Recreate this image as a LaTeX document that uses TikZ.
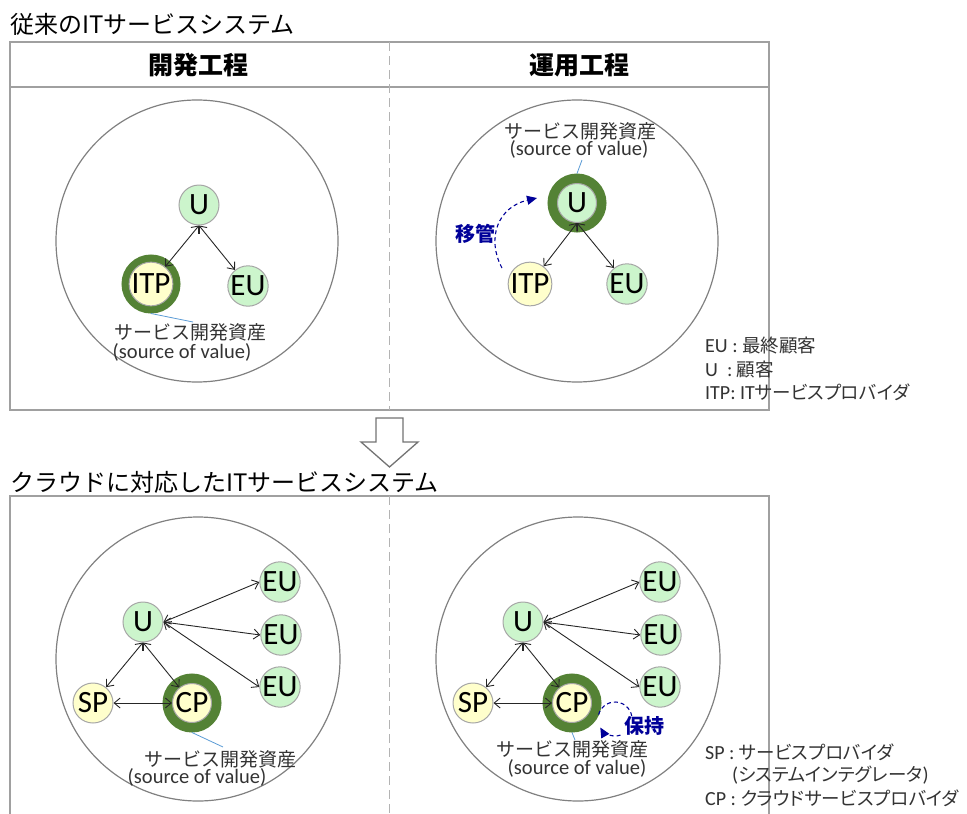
\documentclass[tikz,border=0pt]{standalone}
\usepackage{fontspec}
\setmainfont{Carlito}
\newfontfamily\cjk{Noto Sans CJK JP}
\newfontfamily\cjkp[RawFeature=+palt]{Noto Sans CJK JP}
\usetikzlibrary{arrows.meta}
\definecolor{lgreen}{HTML}{CCF5CC}
\definecolor{lyellow}{HTML}{FFFFCC}
\definecolor{ringgreen}{HTML}{548235}
\definecolor{leaderblue}{HTML}{5B9BD5}
\definecolor{navyblue}{HTML}{000099}
\definecolor{framegray}{HTML}{A0A0A0}
\definecolor{txtgray}{HTML}{333333}
\newcommand{\lgj}[1]{{\fontsize{18.5}{22}\selectfont\cjkp #1}}
\tikzset{
  frameline/.style={draw=framegray, line width=1.5pt},
  divider/.style={draw=framegray!80, line width=1pt, dash pattern=on 9pt off 5pt},
  bigcirc/.style={draw=gray, line width=1.2pt},
  gnode/.style={circle, draw=gray!70, fill=lgreen, minimum size=40pt, inner sep=0pt,
                line width=1pt, font=\fontsize{31}{33}\selectfont},
  ynode/.style={gnode, fill=lyellow, minimum size=39pt},
  ringnode/.style={circle, draw=ringgreen, line width=10pt, minimum size=49pt, inner sep=0pt},
  conn/.style={draw=black!85, line width=0.9pt,
               {Straight Barb[length=6pt,width=10pt]}-{Straight Barb[length=6pt,width=10pt]}},
  leader/.style={draw=leaderblue, line width=0.8pt},
  moveline/.style={draw=navyblue, line width=1.1pt, dash pattern=on 4pt off 3pt,
                   -{Triangle[length=10pt,width=9pt]}},
  movelabel/.style={text=navyblue, font=\fontsize{20}{22}\selectfont\cjk\bfseries, inner sep=0pt},
  asset/.style={text=txtgray, font=\fontsize{19}{21}\selectfont\cjk, inner sep=0pt},
  source/.style={text=txtgray, font=\fontsize{20.5}{22}\selectfont, inner sep=0pt},
  legend/.style={anchor=west, text=txtgray, font=\fontsize{20}{22}\selectfont, inner sep=0pt},
  titletext/.style={anchor=west, font=\fontsize{24}{26}\selectfont\cjk, inner sep=0pt},
  headtext/.style={font=\fontsize{25}{27}\selectfont\cjk\bfseries, inner sep=0pt},
  blockarrow/.style={draw=gray!90!black, line width=1.3pt, fill=white, line join=miter}
}
\begin{document}
\begin{tikzpicture}[x=1pt,y=-1pt]
\useasboundingbox (0,0) rectangle (967,814);

% ---------- titles and frames ----------
\node[titletext] (t1) at (10,24) {従来のITサービスシステム};
\node[titletext] (t2) at (10,482) {クラウドに対応したITサービスシステム};

\draw[frameline] (10,42) rectangle (769,410);
\draw[frameline] (10,87) -- (769,87);
\draw[divider] (389,42) -- (389,410);
\node[headtext] (h1) at (198,65) {開発工程};
\node[headtext] (h2) at (579,65) {運用工程};

\draw[frameline] (10,814) -- (10,496) -- (769,496) -- (769,814);
\draw[divider] (389,496) -- (389,814);

% block arrow
\draw[blockarrow] (376,418) -- (403,418) -- (403,442) -- (418,442) -- (389.5,467)
  -- (361,442) -- (376,442) -- cycle;

% ---------- big circles ----------
\draw[bigcirc] (197,241) circle[radius=141];
\draw[bigcirc] (577,241) circle[radius=141];
\draw[bigcirc] (198,659) circle[radius=142];
\draw[bigcirc] (578,659) circle[radius=142];

% ---------- top-left: development ----------
\node[ringnode] (itpR1) at (151,284) {};
\node[ynode] (itp1) at (151,284) {ITP};
\node[gnode] (u1) at (199,205) {U};
\node[gnode] (eu1) at (248,286) {EU};
\draw[conn] (u1.south) -- (itp1);
\draw[conn] (u1.south) -- (eu1);
\coordinate (ld1) at (193,322);
\draw[leader] (itpR1.south) -- (ld1);
\node[asset] (a1) at (190,332) {サービス開発資産};
\node[source] (s1) at (182,352) {(source of value)};

% ---------- top-right: operation ----------
\node[ringnode] (uR2) at (577,203) {};
\node[gnode, minimum size=39pt] (u2) at (577,203) {U};
\node[ynode, minimum size=40pt] (itp2) at (530,284) {ITP};
\node[gnode] (eu2) at (627,284) {EU};
\draw[conn] (u2.south) -- (itp2);
\draw[conn] (u2.south) -- (eu2);
\coordinate (ld2) at (582,160);
\draw[leader] (uR2.north) -- (ld2);
\node[asset] (a2) at (580,131) {サービス開発資産};
\node[source] (s2) at (579,149) {(source of value)};
\coordinate (mvA) at (502,268);
\coordinate (mvB) at (537,198);
\draw[moveline] (mvA) .. controls (486,238) and (498,207) .. (mvB);
\node[movelabel] (mv) at (475,234) {移管};

% legend top
\node[legend] (lg1) at (705,346) {EU : \lgj{最終顧客}};
\node[legend] (lg2) at (705,369) {U\hspace{9pt}: \lgj{顧客}};
\node[legend] (lg3) at (705,392) {ITP: IT\lgj{サービスプロバイダ}};

% ---------- bottom-left ----------
\node[ringnode] (cpR3) at (192,703) {};
\node[ynode] (cp3) at (192,703) {CP};
\node[ynode, minimum size=40pt] (sp3) at (93,703) {SP};
\node[gnode] (u3) at (143,622) {U};
\node[gnode] (euA3) at (280,582) {EU};
\node[gnode] (euB3) at (281,635) {EU};
\node[gnode] (euC3) at (280,687) {EU};
\draw[conn] (u3.south) -- (sp3);
\draw[conn] (u3.south) -- (cp3);
\draw[conn] (sp3.east) -- (cp3.west);
\draw[conn] (u3.east) -- (euA3.west);
\draw[conn] (u3.east) -- (euB3.west);
\draw[conn] (u3.east) -- (euC3.west);
\coordinate (ld3) at (223,747);
\draw[leader] (cpR3.south) -- (ld3);
\node[asset] (a3) at (220,759) {サービス開発資産};
\node[source] (s3) at (197,777) {(source of value)};

% ---------- bottom-right ----------
\node[ringnode] (cpR4) at (572,703) {};
\node[ynode] (cp4) at (572,703) {CP};
\node[ynode, minimum size=40pt] (sp4) at (473,703) {SP};
\node[gnode] (u4) at (523,622) {U};
\node[gnode] (euA4) at (660,582) {EU};
\node[gnode] (euB4) at (661,635) {EU};
\node[gnode] (euC4) at (660,687) {EU};
\draw[conn] (u4.south) -- (sp4);
\draw[conn] (u4.south) -- (cp4);
\draw[conn] (sp4.east) -- (cp4.west);
\draw[conn] (u4.east) -- (euA4.west);
\draw[conn] (u4.east) -- (euB4.west);
\draw[conn] (u4.east) -- (euC4.west);
\coordinate (ld4) at (575,740);
\draw[leader] (cpR4.south) -- (ld4);
\node[asset] (a4) at (572,749) {サービス開発資産};
\node[source] (s4) at (577,768) {(source of value)};
\coordinate (hs) at (598.6,714.6);
\draw[moveline] (hs) arc[start angle=195, end angle=510, radius=17];
\node[movelabel, fill=white, inner sep=1pt] (hj) at (644,726) {保持};

% legend bottom
\node[legend] (lg4) at (705,752) {SP : \lgj{サービスプロバイダ}};
\node[legend] (lg5) at (732,775) {(\lgj{システムインテグレータ})};
\node[legend] (lg6) at (705,798) {CP : \lgj{クラウドサービスプロバイダ}};
\end{tikzpicture}
\end{document}
